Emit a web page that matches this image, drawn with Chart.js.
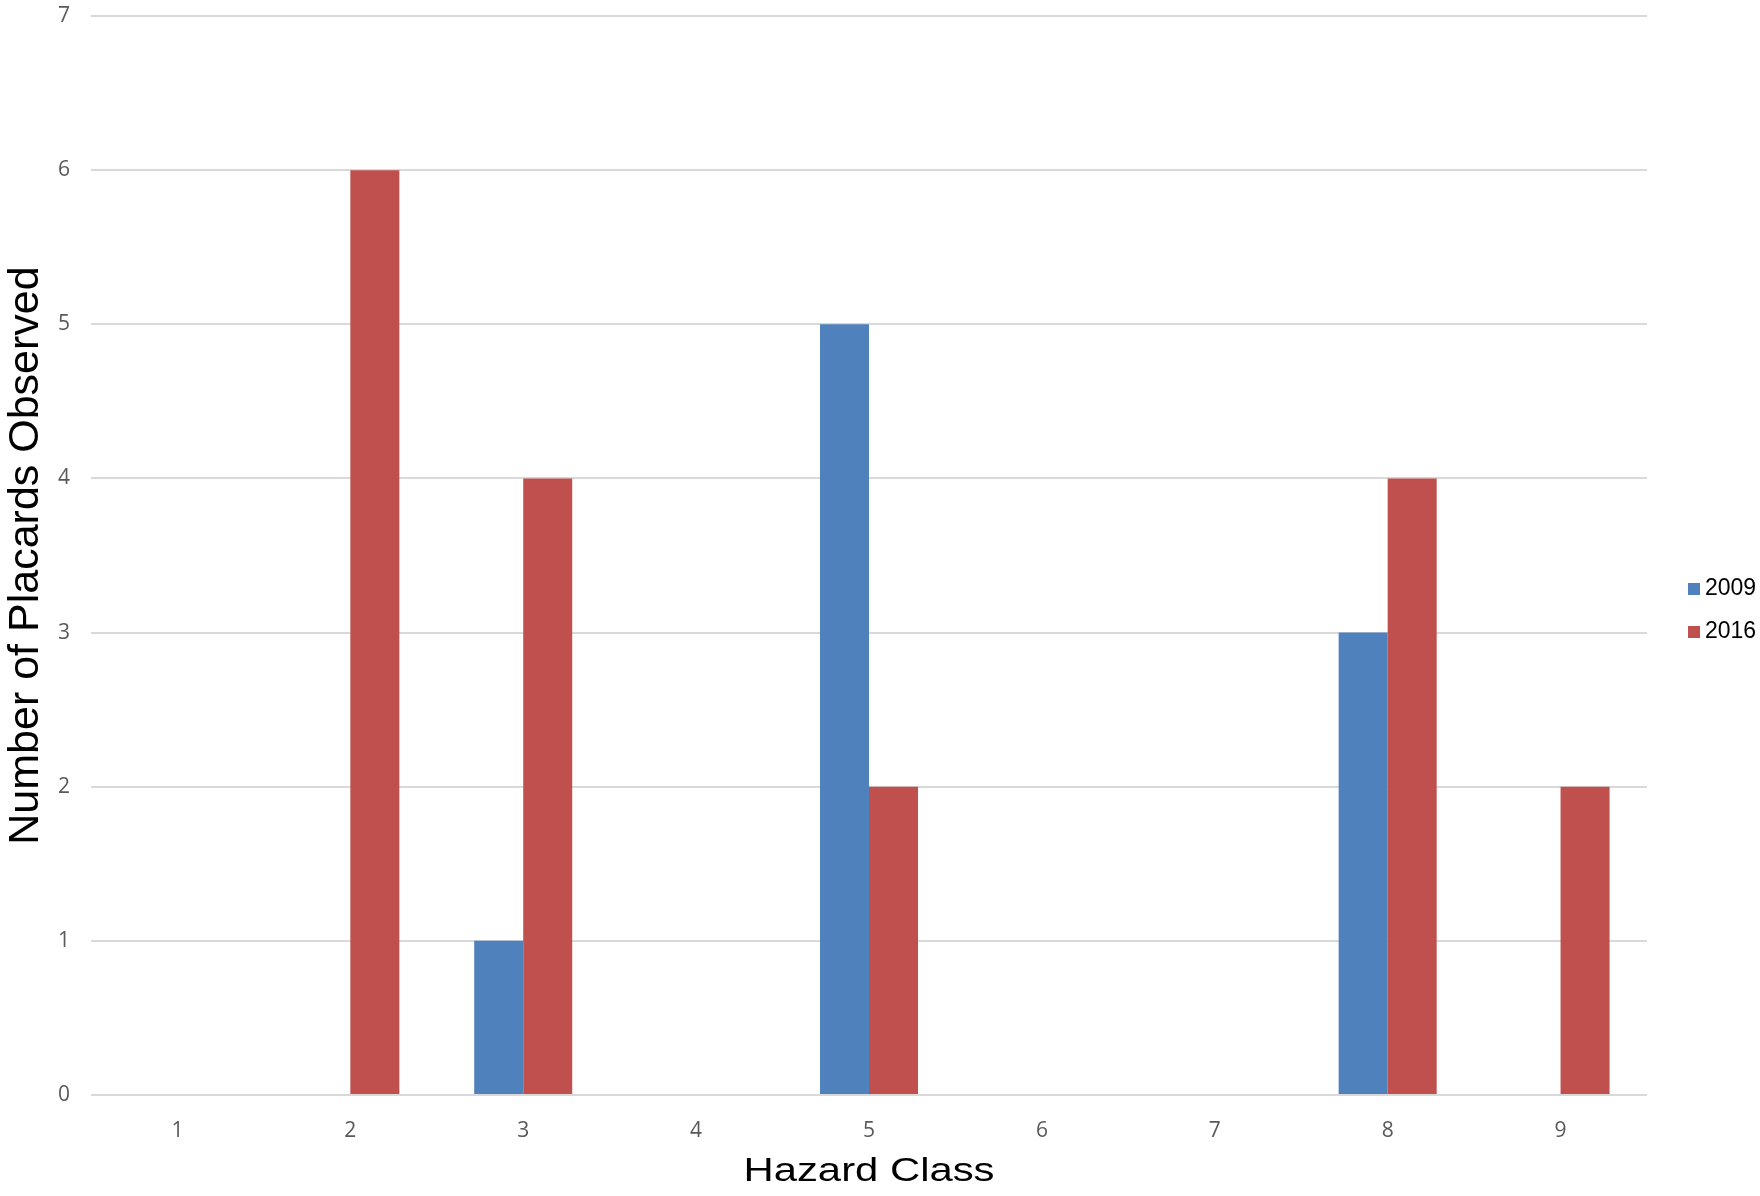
<!DOCTYPE html>
<html>
<head>
<meta charset="utf-8">
<title>Number of Placards Observed by Hazard Class</title>
<script src="https://cdn.jsdelivr.net/npm/chart.js@4.4.1/dist/chart.umd.min.js"></script>
<style>
  html, body { margin: 0; padding: 0; background: #fff; }
  #wrap { width: 1760px; height: 1196px; }
</style>
</head>
<body>
<div id="wrap"><canvas id="placardChart" width="1760" height="1196"></canvas></div>
<script>
const hazardClasses = ["1", "2", "3", "4", "5", "6", "7", "8", "9"];
const seriesLabels = ["2009", "2016"];
const placards2009 = [0, 0, 1, 0, 5, 0, 0, 3, 0];
const placards2016 = [0, 6, 4, 0, 2, 0, 0, 4, 2];
const yMin = 0;
const yMax = 7;
const xTitle = "Hazard Class";
const yTitle = "Number of Placards Observed";

const blue = "#4F81BD";
const red = "#C0504D";
const tickFont = { family: "'Open Sans', sans-serif", size: 21 };

// legend on the right + the wide x-axis title, drawn after the chart
const sideBits = {
  id: "sideBits",
  afterDraw(chart) {
    const ctx = chart.ctx;
    const area = chart.chartArea;
    ctx.save();
    ctx.font = "23px 'Liberation Sans', Arial, sans-serif";
    ctx.textBaseline = "middle";
    ctx.textAlign = "left";
    chart.data.datasets.forEach((ds, i) => {
      const x = area.right + 41;
      const y = 589 + i * 43;
      ctx.fillStyle = ds.backgroundColor;
      ctx.fillRect(x, y - 6, 12, 12);
      ctx.fillStyle = "#000";
      ctx.fillText(ds.label, x + 17, y);
    });

    // the original title is stretched sideways
    ctx.font = "34px 'Liberation Sans', Arial, sans-serif";
    ctx.textAlign = "center";
    ctx.textBaseline = "alphabetic";
    ctx.translate((area.left + area.right) / 2, 1181);
    ctx.scale(1.23, 1);
    ctx.fillText(xTitle, 0, 0);
    ctx.restore();
  }
};

const ctx = document.getElementById("placardChart").getContext("2d");

new Chart(ctx, {
  type: "bar",
  data: {
    labels: hazardClasses,
    datasets: [
      {
        label: seriesLabels[0],
        data: placards2009,
        backgroundColor: blue,
        categoryPercentage: 0.567,
        barPercentage: 1
      },
      {
        label: seriesLabels[1],
        data: placards2016,
        backgroundColor: red,
        categoryPercentage: 0.567,
        barPercentage: 1
      }
    ]
  },
  options: {
    responsive: false,
    animation: false,
    layout: { padding: { top: 16, right: 113, bottom: 0, left: 0 } },
    plugins: {
      legend: { display: false },
      tooltip: { enabled: false }
    },
    scales: {
      x: {
        grid: { display: false, drawTicks: false },
        border: { display: false },
        ticks: { color: "#595959", font: tickFont, padding: 23 },
        afterFit: s => { s.height = 101; }
      },
      y: {
        min: yMin,
        max: yMax,
        ticks: { stepSize: 1, color: "#595959", font: tickFont, padding: 21 },
        grid: { color: "#d9d9d9", lineWidth: 2, drawTicks: false },
        border: { display: false },
        title: {
          display: true,
          text: yTitle,
          color: "#000",
          padding: 0,
          font: { family: "'Liberation Sans', Arial, sans-serif", size: 43 }
        },
        afterFit: s => {
          s.width = 91;
          // tick padding is meant sideways only, don't let it push the top down
          s.paddingTop = 0;
          s.paddingBottom = 0;
        }
      }
    }
  },
  plugins: [sideBits]
});
</script>
</body>
</html>
